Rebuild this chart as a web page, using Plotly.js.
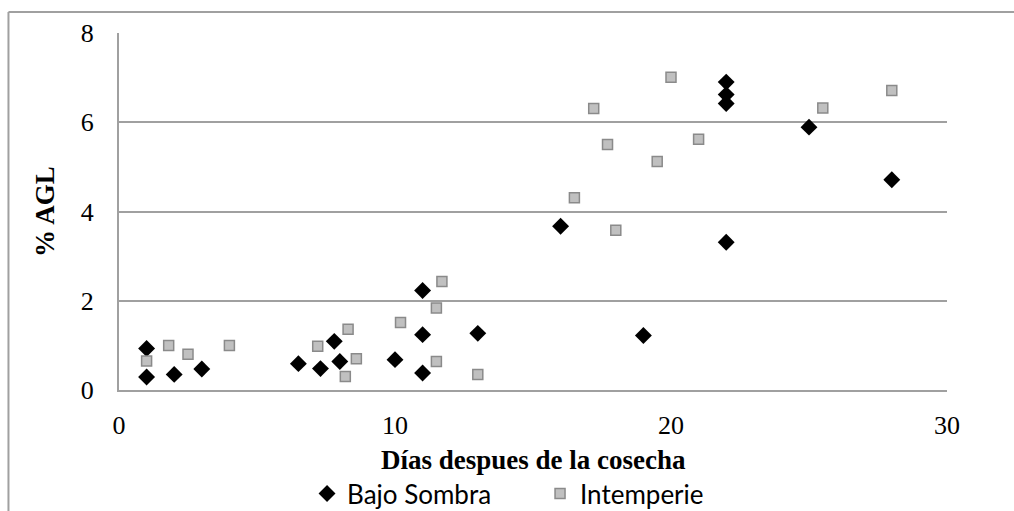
<!DOCTYPE html>
<html>
<head>
<meta charset="utf-8">
<script src="https://cdn.plot.ly/plotly-3.0.1.min.js"></script>
<style>html,body{margin:0;padding:0;background:#fff;}#chart{width:1014px;height:511px;}</style>
</head>
<body>
<div id="chart"></div>
<script>
// Bajo Sombra
const sombraDias = [1, 1, 2, 3, 6.5, 7.3, 7.8, 8, 10, 11, 11, 11, 13, 16, 19, 22, 22, 22, 22, 25, 28];
const sombraAGL  = [0.93, 0.29, 0.35, 0.47, 0.59, 0.48, 1.09, 0.64, 0.68, 2.23, 1.24, 0.38, 1.27, 3.67, 1.22, 6.90, 6.62, 6.42, 3.31, 5.89, 4.71];
// Intemperie
const intempDias = [1, 1.8, 2.5, 4, 7.2, 8.2, 8.3, 8.6, 10.2, 11.5, 11.5, 11.7, 13, 16.5, 17.2, 17.7, 18, 19.5, 20, 21, 25.5, 28];
const intempAGL  = [0.65, 1.0, 0.80, 1.0, 0.98, 0.30, 1.36, 0.70, 1.51, 1.84, 0.64, 2.43, 0.35, 4.31, 6.31, 5.50, 3.58, 5.12, 7.01, 5.62, 6.32, 6.71];
const xTicks = [0, 10, 20, 30];
const yTicks = [0, 2, 4, 6, 8];
const xTitle = 'Días despues de la cosecha';
const yTitle = '% AGL';

const traces = [
  {
    x: sombraDias, y: sombraAGL, name: 'Bajo Sombra', type: 'scatter', mode: 'markers',
    marker: {symbol: 'diamond', size: 13, color: '#000000', line: {width: 0}}
  },
  {
    x: intempDias, y: intempAGL, name: 'Intemperie', type: 'scatter', mode: 'markers',
    marker: {symbol: 'square', size: 10, color: '#c0c0c0', line: {width: 1.5, color: '#8a8a8a'}}
  }
];

const layout = {
  width: 1014, height: 511,
  margin: {l: 119, r: 67, t: 33, b: 121},
  paper_bgcolor: '#ffffff', plot_bgcolor: '#ffffff',
  showlegend: true,
  legend: {
    orientation: 'h', xref: 'container', yref: 'container',
    x: 0.3028, xanchor: 'left', y: 0.08, yanchor: 'top',
    font: {family: 'Lato, Open Sans, sans-serif', size: 26, color: '#000'},
    itemwidth: 30, entrywidth: 188, traceorder: 'normal'
  },
  xaxis: {
    range: [0, 30], tickvals: xTicks, ticktext: xTicks.map(String),
    automargin: false,
    showgrid: false, zeroline: false,
    showline: true, linecolor: '#a0a0a0', linewidth: 2,
    ticks: 'outside', ticklen: 11, tickcolor: 'rgba(0,0,0,0)',
    tickfont: {family: 'Liberation Serif', size: 26, color: '#000'}
  },
  yaxis: {
    range: [0, 8], tickvals: yTicks, ticktext: yTicks.map(String),
    automargin: false,
    showgrid: true, gridcolor: '#a0a0a0', gridwidth: 2, zeroline: false,
    showline: true, linecolor: '#a0a0a0', linewidth: 2,
    ticks: 'outside', ticklen: 18, tickcolor: 'rgba(0,0,0,0)',
    tickfont: {family: 'Liberation Serif', size: 26, color: '#000'},
    title: {text: yTitle,
      font: {family: 'Liberation Serif', size: 27, color: '#000', weight: 'bold'}}
  },
  annotations: [
    {text: xTitle, xref: 'paper', yref: 'paper', x: 0.5, y: -0.196, xanchor: 'center', yanchor: 'middle',
     showarrow: false, font: {family: 'Liberation Serif', size: 27, color: '#000', weight: 'bold'}}
  ],
  shapes: [
    {type: 'line', xref: 'paper', yref: 'paper', x0: -0.1335, x1: -0.1335, y0: 1.0588, y1: -0.4, line: {color: '#a0a0a0', width: 2}},
    {type: 'line', xref: 'paper', yref: 'paper', x0: -0.1335, x1: 1.1, y0: 1.0588, y1: 1.0588, line: {color: '#a0a0a0', width: 2}}
  ]
};

Plotly.newPlot('chart', traces, layout, {displayModeBar: false, staticPlot: true});
</script>
</body>
</html>
